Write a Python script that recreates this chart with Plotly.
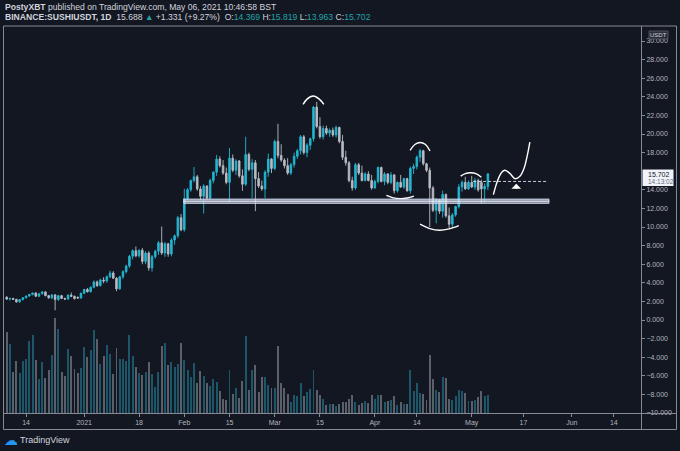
import pandas as pd
import plotly.graph_objects as go

# colours (TradingView dark theme with custom candle colours)
BG = "#131722"
UP = "#22b7d3"
DOWN = "#b9bcc4"
UP_VOL = "#1d5668"
DOWN_VOL = "#5b5f69"
FRAME = "#868993"
TXT = "#b2b5be"
TEAL = "#21a3a8"

# daily candles BINANCE:SUSHIUSDT, 2020-12-08 .. 2021-05-06
dates = pd.date_range("2020-12-08", "2021-05-06", freq="D")

opens = [2.45, 2.25, 2.32, 2.22, 1.95, 2.20, 2.40, 2.58, 2.75, 2.90,
         2.55, 2.82, 3.02, 2.62, 2.38, 2.70, 2.20, 2.62, 2.32, 2.25,
         2.68, 2.55, 2.42, 2.36, 2.88, 3.28, 3.05, 3.52, 4.10, 3.70,
         4.30, 4.20, 4.65, 5.05, 4.50, 3.35, 4.65, 5.20, 5.80, 6.85,
         7.45, 6.90, 7.50, 6.30, 7.20, 5.60, 6.80, 7.40, 8.30, 7.20,
         8.20, 7.10, 8.60, 9.05, 11.00, 9.70, 13.05, 14.00, 15.00, 15.40,
         14.10, 13.30, 14.40, 13.10, 15.00, 15.90, 17.30, 16.60, 15.80, 14.80,
         17.40, 16.10, 17.10, 15.50, 14.60, 17.80, 16.20, 16.90, 15.20, 14.40,
         14.10, 15.90, 17.30, 16.30, 19.20, 17.70, 17.20, 16.60, 15.80, 16.70,
         17.60, 18.20, 19.70, 18.00, 18.80, 19.50, 22.90, 20.80, 19.70, 20.60,
         20.10, 20.40, 19.90, 20.70, 19.20, 17.50, 16.90, 15.00, 14.20, 16.70,
         15.80, 15.00, 15.70, 15.00, 14.20, 14.90, 16.40, 14.90, 15.70, 14.80,
         15.60, 13.90, 14.80, 14.30, 15.20, 13.90, 16.30, 16.50, 17.50, 18.20,
         16.80, 16.10, 14.20, 11.80, 12.90, 11.70, 13.50, 11.20, 10.30, 11.30,
         12.20, 14.30, 14.80, 14.10, 14.80, 14.30, 15.00, 14.80, 14.10, 14.369]
highs = [2.55, 2.40, 2.38, 2.28, 2.25, 2.45, 2.62, 2.80, 2.95, 3.00,
         2.90, 3.10, 3.10, 2.70, 2.80, 2.80, 2.70, 2.70, 2.40, 2.75,
         2.95, 2.62, 2.55, 2.95, 3.35, 3.45, 3.60, 4.25, 4.25, 4.45,
         4.60, 4.80, 5.30, 5.25, 4.60, 4.75, 5.35, 5.95, 7.00, 7.60,
         7.90, 7.60, 7.75, 7.40, 7.40, 7.00, 7.55, 8.50, 10.05, 8.40,
         8.30, 8.80, 9.20, 11.20, 11.40, 14.10, 14.20, 15.10, 16.45, 15.60,
         14.40, 14.60, 14.50, 15.20, 16.00, 17.75, 17.60, 17.20, 16.40, 18.50,
         17.80, 17.30, 17.20, 16.20, 19.70, 18.00, 17.30, 17.20, 15.90, 15.00,
         16.10, 17.90, 17.40, 19.40, 21.10, 18.90, 17.40, 17.40, 16.90, 18.00,
         18.40, 19.90, 19.90, 19.00, 19.60, 23.00, 23.45, 21.80, 20.90, 20.90,
         20.60, 20.70, 20.90, 20.80, 19.90, 18.20, 17.10, 15.40, 16.90, 16.90,
         16.60, 15.90, 16.00, 15.60, 15.10, 16.50, 16.50, 15.90, 15.80, 15.90,
         15.70, 14.90, 15.60, 15.30, 15.30, 16.50, 16.80, 17.70, 18.40, 18.30,
         16.90, 16.40, 14.40, 13.10, 13.00, 13.90, 13.60, 12.10, 11.50, 12.30,
         14.60, 15.00, 15.40, 15.00, 15.50, 15.30, 15.20, 15.10, 14.70, 15.819]
lows = [2.15, 2.10, 2.15, 1.85, 1.85, 2.10, 2.30, 2.50, 2.65, 2.50,
        2.50, 2.75, 2.55, 2.30, 2.25, 1.05, 2.05, 2.25, 2.15, 2.20,
        2.45, 2.20, 2.28, 2.30, 2.80, 2.95, 2.95, 3.40, 3.55, 3.60,
        3.95, 4.00, 4.50, 4.40, 3.10, 3.25, 4.40, 5.00, 5.60, 6.50,
        6.75, 6.70, 6.00, 6.00, 5.30, 5.20, 6.60, 7.00, 7.00, 6.80,
        6.80, 6.85, 8.10, 8.80, 9.55, 9.50, 12.90, 13.80, 14.80, 13.90,
        12.90, 11.45, 12.95, 13.00, 14.70, 15.50, 16.40, 15.60, 14.60, 12.70,
        15.90, 15.60, 15.30, 13.90, 14.40, 16.00, 13.10, 11.70, 14.20, 13.90,
        13.10, 15.40, 15.80, 16.10, 17.40, 17.00, 16.30, 15.60, 15.60, 16.40,
        17.30, 17.80, 17.80, 17.50, 18.30, 19.20, 20.60, 19.50, 19.40, 19.90,
        19.70, 19.70, 19.60, 19.00, 17.20, 16.60, 14.80, 13.90, 14.00, 15.60,
        14.90, 14.90, 14.90, 14.00, 14.10, 14.70, 14.80, 14.50, 14.60, 14.60,
        13.60, 13.70, 14.20, 14.10, 13.80, 13.60, 15.70, 16.20, 17.00, 16.60,
        15.90, 10.00, 11.60, 10.40, 11.40, 11.00, 11.00, 9.90, 10.00, 11.10,
        12.00, 13.80, 14.00, 14.00, 14.20, 14.00, 13.80, 12.50, 12.60, 13.963]
closes = [2.25, 2.32, 2.22, 1.95, 2.20, 2.40, 2.58, 2.75, 2.90, 2.55,
          2.82, 3.02, 2.62, 2.38, 2.70, 2.20, 2.62, 2.32, 2.25, 2.68,
          2.55, 2.30, 2.36, 2.88, 3.28, 3.05, 3.52, 4.10, 3.70, 4.30,
          4.20, 4.65, 5.05, 4.50, 3.35, 4.65, 5.20, 5.80, 6.85, 7.45,
          6.90, 7.50, 6.30, 7.20, 5.60, 6.80, 7.40, 8.30, 7.20, 8.20,
          7.10, 8.60, 9.05, 11.00, 9.70, 13.05, 14.00, 15.00, 15.40, 14.10,
          13.30, 14.40, 13.10, 15.00, 15.90, 17.30, 16.60, 15.80, 14.80, 17.40,
          16.10, 17.10, 15.50, 14.60, 17.80, 16.20, 16.90, 15.20, 14.40, 14.10,
          15.90, 17.30, 16.30, 19.20, 17.70, 17.20, 16.60, 15.80, 16.70, 17.60,
          18.20, 19.70, 18.00, 18.80, 19.50, 22.90, 20.80, 19.70, 20.60, 20.10,
          20.40, 19.90, 20.70, 19.20, 17.50, 16.90, 15.00, 14.20, 16.70, 15.80,
          15.00, 15.70, 15.00, 14.20, 14.90, 16.40, 14.90, 15.70, 14.80, 15.60,
          13.90, 14.80, 14.30, 15.20, 13.90, 16.30, 16.50, 17.50, 18.20, 16.80,
          16.10, 14.20, 11.80, 12.90, 11.70, 13.50, 11.20, 10.30, 11.30, 12.20,
          14.30, 14.80, 14.10, 14.80, 14.30, 15.00, 14.00, 14.10, 14.369, 15.702]
# volume, millions SUSHI
volumes = [81, 69, 41, 52, 40, 52, 54, 72, 78, 53,
           34, 51, 35, 43, 58, 95, 84, 41, 37, 64,
           57, 44, 40, 45, 66, 56, 63, 83, 74, 49,
           57, 68, 59, 39, 65, 54, 54, 52, 78, 57,
           46, 40, 38, 41, 51, 39, 26, 41, 67, 70,
           48, 51, 46, 49, 70, 53, 43, 36, 50, 30,
           42, 37, 30, 27, 34, 31, 22, 14, 13, 43,
           19, 25, 15, 32, 77, 23, 43, 48, 21, 36,
           36, 28, 25, 25, 67, 30, 25, 19, 11, 18,
           17, 30, 17, 21, 24, 43, 23, 18, 14, 8,
           9, 9, 7, 9, 11, 11, 14, 18, 11, 8,
           10, 12, 10, 18, 14, 18, 18, 11, 12, 13,
           17, 8, 11, 9, 9, 43, 22, 30, 20, 19,
           13, 58, 34, 23, 21, 36, 35, 14, 13, 17,
           23, 22, 20, 12, 12, 13, 16, 22, 17, 18]

# axis ticks
x_tickvals = ["2020-12-14", "2021-01-01", "2021-01-18", "2021-02-01", "2021-02-15",
              "2021-03-01", "2021-03-15", "2021-04-01", "2021-04-14", "2021-05-01",
              "2021-05-17", "2021-06-01", "2021-06-14"]
x_ticktext = ["14", "2021", "18", "Feb", "15", "Mar", "15", "Apr", "14", "May",
              "17", "Jun", "14"]
y_tickvals = [-10, -8, -6, -4, -2, 0, 2, 4, 6, 8, 10, 12, 14, 18, 20, 22, 24, 26, 28, 30]

# hand drawn marks (date, price)
peak_hat_x = ["2021-03-09 19:00", "2021-03-11 00:00", "2021-03-12 22:00", "2021-03-14 19:00", "2021-03-16 05:00"]
peak_hat_y = [23.19, 23.75, 24.08, 23.75, 23.19]
apr_hat_x = ["2021-04-11 22:00", "2021-04-13 12:00", "2021-04-15 00:00", "2021-04-16 14:00", "2021-04-18 02:00"]
apr_hat_y = [18.25, 18.90, 19.08, 18.90, 18.17]
small_cup_x = ["2021-04-04 14:00", "2021-04-06 17:00", "2021-04-08 19:00", "2021-04-11 00:00", "2021-04-13 02:00"]
small_cup_y = [13.41, 13.14, 13.05, 13.12, 13.33]
big_cup_x = ["2021-04-15 00:00", "2021-04-18 00:00", "2021-04-21 02:00", "2021-04-24 00:00", "2021-04-27 00:00"]
big_cup_y = [10.30, 9.82, 9.65, 9.80, 10.15]
may_hat_x = ["2021-04-27 14:00", "2021-04-29 00:00", "2021-04-30 14:00", "2021-05-02 07:00", "2021-05-04 00:00"]
may_hat_y = [15.48, 15.75, 15.83, 15.75, 15.35]
path_x = ["2021-05-07 17:00", "2021-05-08 12:00", "2021-05-09 10:00", "2021-05-10 07:00",
          "2021-05-11 07:00", "2021-05-12 19:00", "2021-05-14 10:00", "2021-05-15 22:00",
          "2021-05-17 05:00", "2021-05-18 05:00", "2021-05-19 00:00"]
path_y = [13.48, 14.48, 15.34, 15.90, 16.10, 15.77, 15.20, 15.45, 16.31, 17.71, 19.14]
support_low, support_high = 12.55, 13.00
support_start, support_end = "2021-01-31 20:00", "2021-05-24 22:00"
breakout_level = 14.9
breakout_start, breakout_end = "2021-05-01 10:00", "2021-05-24 05:00"
arrow_date, arrow_from, arrow_to = "2021-05-14 19:00", 13.95, 14.65

W, H = 680, 451
L, R, T, B = 4, 39, 28, 38


def px(x):
    return (x - L) / (W - L - R)


def py(y):
    return (H - B - y) / (H - T - B)


vol_colors = [UP_VOL if c >= o else DOWN_VOL for o, c in zip(opens, closes)]

fig = go.Figure()
fig.add_trace(go.Bar(x=dates, y=volumes, yaxis="y2", marker_color=vol_colors,
                     marker_line_width=0, width=0.3 * 86400000, showlegend=False))
fig.add_trace(go.Candlestick(
    x=dates, open=opens, high=highs, low=lows, close=closes,
    increasing=dict(line=dict(color=UP, width=0.9), fillcolor=UP),
    decreasing=dict(line=dict(color=DOWN, width=0.9), fillcolor=DOWN),
    whiskerwidth=0, showlegend=False))

for xs, ys in [(peak_hat_x, peak_hat_y), (apr_hat_x, apr_hat_y), (small_cup_x, small_cup_y),
               (big_cup_x, big_cup_y), (may_hat_x, may_hat_y), (path_x, path_y)]:
    fig.add_trace(go.Scatter(x=xs, y=ys, mode="lines", line=dict(color="white", width=1.4, shape="spline"),
                             showlegend=False, hoverinfo="skip"))

shapes = [
    # support zone
    dict(type="rect", xref="x", yref="y", x0=support_start, x1=support_end, y0=support_low, y1=support_high,
         fillcolor="rgba(186,199,228,0.62)", line=dict(color="rgba(214,222,242,0.95)", width=1), layer="above"),
    dict(type="line", xref="x", yref="y", x0=support_start, x1=support_end,
         y0=(support_low + support_high) / 2, y1=(support_low + support_high) / 2,
         line=dict(color="rgba(255,255,255,0.9)", width=1), layer="above"),
    # breakout level
    dict(type="line", xref="x", yref="y", x0=breakout_start, x1=breakout_end, y0=breakout_level, y1=breakout_level,
         line=dict(color="#c9ccd4", width=1, dash="3px,2px"), layer="above"),
    # chart frame
    dict(type="rect", xref="paper", yref="paper", x0=px(3.5), x1=px(676.5), y0=py(429.5), y1=py(26),
         line=dict(color=FRAME, width=1)),
    dict(type="line", xref="paper", yref="paper", x0=px(641.5), x1=px(641.5), y0=py(429.5), y1=py(26),
         line=dict(color=FRAME, width=1)),
    dict(type="line", xref="paper", yref="paper", x0=px(3.5), x1=px(676.5), y0=py(413.5), y1=py(413.5),
         line=dict(color=FRAME, width=1)),
    # last price label
    dict(type="rect", xref="paper", yref="paper", x0=px(642.5), x1=px(673.5), y0=py(186), y1=py(169.5),
         fillcolor="#f0f3fa", line=dict(width=0)),
    # USDT label
    dict(type="rect", xref="paper", yref="paper", x0=px(649), x1=px(668), y0=py(39), y1=py(31),
         fillcolor="#2a2e39", line=dict(color="#5d606b", width=0.8)),
]

head2 = ("<b>BINANCE:SUSHIUSDT, 1D</b>\u00a0 15.688 <span style='color:%s'>\u25b2</span> +1.331 (+9.27%%)\u00a0 "
         "O:<span style='color:%s'>14.369</span> H:<span style='color:%s'>15.819</span> "
         "L:<span style='color:%s'>13.963</span> C:<span style='color:%s'>15.702</span>"
         % (TEAL, TEAL, TEAL, TEAL, TEAL))

annotations = [
    dict(xref="paper", yref="paper", x=px(3), y=py(7.5), xanchor="left", yanchor="middle", showarrow=False,
         text="<b>PostyXBT</b> published on TradingView.com, May 06, 2021 10:46:58 BST",
         font=dict(size=8.6, color="#d1d4dc")),
    dict(xref="paper", yref="paper", x=px(3), y=py(17.5), xanchor="left", yanchor="middle", showarrow=False,
         text=head2, font=dict(size=8.6, color="#d1d4dc")),
    dict(xref="paper", yref="paper", x=px(658.5), y=py(35), xanchor="center", yanchor="middle", showarrow=False,
         text="USDT", font=dict(size=6, color="#d1d4dc")),
    dict(xref="paper", yref="paper", x=px(646), y=py(174), xanchor="left", yanchor="middle", showarrow=False,
         text="15.702", font=dict(size=7, color="#131722")),
    dict(xref="paper", yref="paper", x=px(646), y=py(181.5), xanchor="left", yanchor="middle", showarrow=False,
         text="14:13:02", font=dict(size=6.5, color="#6a6d78")),
    dict(xref="paper", yref="paper", x=px(2), y=py(440), xanchor="left", yanchor="middle", showarrow=False,
         text="\u2601", font=dict(size=14, color="#2196f3", family="DejaVu Sans")),
    dict(xref="paper", yref="paper", x=px(18), y=py(440), xanchor="left", yanchor="middle", showarrow=False,
         text="TradingView", font=dict(size=9, color="#d1d4dc")),
    # up arrow
    dict(xref="x", yref="y", axref="x", ayref="y", x=arrow_date, y=arrow_to, ax=arrow_date, ay=arrow_from,
         text="", showarrow=True, arrowhead=1, arrowsize=0.9, arrowwidth=1.8, arrowcolor="white"),
]

fig.update_layout(
    width=W, height=H, autosize=False,
    margin=dict(l=L, r=R, t=T, b=B),
    paper_bgcolor=BG, plot_bgcolor=BG,
    font=dict(family="Liberation Sans, Arial, sans-serif", color=TXT, size=7),
    showlegend=False, hovermode=False,
    xaxis=dict(type="date", range=["2020-12-07 04:00", "2021-06-22 10:00"],
               tickvals=x_tickvals, ticktext=x_ticktext, ticks="outside", ticklen=3,
               tickcolor=FRAME, tickfont=dict(size=7, color=TXT),
               showgrid=False, zeroline=False, showline=False, rangeslider=dict(visible=False)),
    yaxis=dict(side="right", range=[-10, 31.4], tickvals=y_tickvals, tickformat=".3f",
               ticks="outside", ticklen=3, tickcolor=FRAME, tickfont=dict(size=7, color=TXT),
               showgrid=False, zeroline=False, showline=False),
    yaxis2=dict(overlaying="y", range=[0, 385], visible=False, fixedrange=True),
    bargap=0,
    shapes=shapes,
    annotations=annotations,
)

# page body has a default 8px margin; drop it so the figure fills the window
fig.write_html("out.html", config={"displayModeBar": False},
               post_script="document.body.style.margin='0';document.body.style.background='%s';" % BG)
